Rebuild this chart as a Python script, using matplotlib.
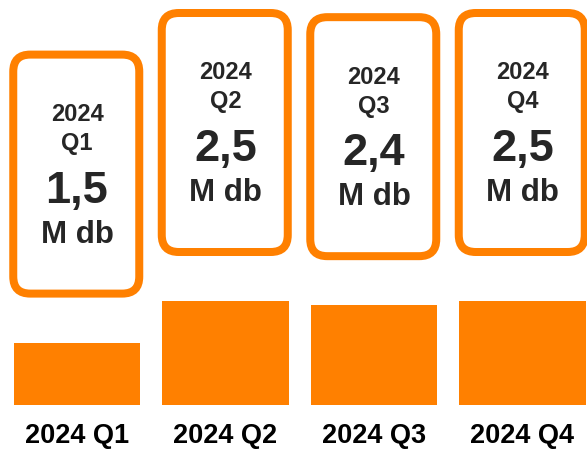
import matplotlib.pyplot as plt
from matplotlib.patches import FancyBboxPatch

quarters = ["2024 Q1", "2024 Q2", "2024 Q3", "2024 Q4"]
box_titles = ["2024\nQ1", "2024\nQ2", "2024\nQ3", "2024\nQ4"]
values = [1.5, 2.5, 2.4, 2.5]
value_labels = ["1,5", "2,5", "2,4", "2,5"]
unit = "M db"

orange = "#ff8000"
dark = "#262626"
plt.rcParams['font.family'] = ['Liberation Sans', 'DejaVu Sans']

W, H = 587, 450
fig = plt.figure(figsize=(W / 100, H / 100), dpi=100)
ax = fig.add_axes([0, 0, 1, 1])

# pixels per data unit
ppx, ppy = 148.5, 41.6
x0_px, base_px = 77, 45
ax.set_xlim(-x0_px / ppx, (W - x0_px) / ppx)
ax.set_ylim(-base_px / ppy, (H - base_px) / ppy)
ax.axis('off')

x = list(range(len(values)))
ax.bar(x, values, width=0.85, color=orange)

# callout boxes sitting above each bar
lw_px = 8
for i, v in enumerate(values):
    bw = 126 / ppx
    y0 = v + 49 / ppy
    bh = 239 / ppy
    box = FancyBboxPatch((i - bw / 2 - 0.005, y0), bw, bh,
                         boxstyle="round,pad=0,rounding_size=%f" % (17 / ppx),
                         mutation_aspect=ppx / ppy,
                         facecolor="white", edgecolor=orange,
                         linewidth=lw_px * 72 / 100)
    ax.add_patch(box)

    t1, t2 = box_titles[i].split("\n")
    ax.annotate(t1, (i, v), xytext=(0, 221.6), textcoords='offset pixels',
                ha='center', va='baseline', fontsize=17, fontweight='bold', color=dark)
    ax.annotate(t2, (i, v), xytext=(0, 192.6), textcoords='offset pixels',
                ha='center', va='baseline', fontsize=17, fontweight='bold', color=dark)
    ax.annotate(value_labels[i], (i, v), xytext=(0, 139.7), textcoords='offset pixels',
                ha='center', va='baseline', fontsize=32.5, fontweight='bold', color=dark)
    ax.annotate(unit, (i, v), xytext=(0, 99.7), textcoords='offset pixels',
                ha='center', va='baseline', fontsize=22.5, fontweight='bold', color=dark)

    ax.annotate(quarters[i], (i, 0), xytext=(0, -38), textcoords='offset pixels',
                ha='center', va='baseline', fontsize=19.5, fontweight='bold', color="black")

fig.savefig("out.png", dpi=100)
